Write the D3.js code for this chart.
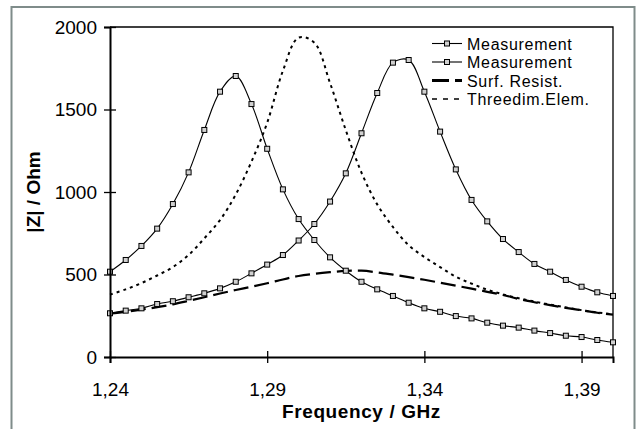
<!DOCTYPE html>
<html lang="en">
<head>
    <meta charset="UTF-8">
    <title>|Z| vs Frequency</title>
    <style>
        body { margin: 0; background: #fff; }
        text { font-family: "Liberation Sans", Arial, sans-serif; fill: #000; }
    </style>
</head>
<body>
<svg height="429" width="641"></svg>

<script src="https://d3js.org/d3.v7.min.js"></script>
<script>

    // frequency points in GHz
    var freq = [1.240, 1.245, 1.250, 1.255, 1.260, 1.265, 1.270, 1.275, 1.280, 1.285, 1.290,
                1.295, 1.300, 1.305, 1.310, 1.315, 1.320, 1.325, 1.330, 1.335, 1.340, 1.345,
                1.350, 1.355, 1.360, 1.365, 1.370, 1.375, 1.380, 1.385, 1.390, 1.395, 1.400];

    // |Z| in Ohm
    var measurement1 = [517, 588, 673, 778, 927, 1119, 1376, 1608, 1703, 1533, 1262,
                        1016, 836, 709, 604, 523, 456, 410, 370, 329, 295, 274,
                        248, 234, 208, 190, 178, 160, 145, 129, 121, 103, 89];
    var measurement2 = [265, 281, 295, 321, 338, 362, 386, 416, 456, 507, 560,
                        618, 706, 806, 942, 1113, 1356, 1600, 1784, 1800, 1608, 1366,
                        1137, 952, 822, 715, 636, 564, 517, 467, 426, 392, 370];
    var surfResist = [262, 274, 287, 302, 319, 340, 362, 385, 406, 426, 447,
                      470, 491, 504, 514, 522, 523, 513, 499, 484, 468, 450,
                      432, 414, 395, 376, 352, 332, 314, 298, 283, 268, 257];
    var threedim = [378, 410, 448, 494, 545, 618, 719, 830, 985, 1184, 1420,
                    1734, 1936, 1905, 1660, 1375, 1117, 925, 788, 677, 606, 545,
                    487, 445, 408, 380, 356, 336, 318, 300, 284, 270, 258];

    var xTicks = [1.24, 1.29, 1.34, 1.39];
    var yTicks = [0, 500, 1000, 1500, 2000];
    var legendNames = ["Measurement", "Measurement", "Surf. Resist.", "Threedim.Elem."];

    var svg = d3.select("svg");
    var plot = {left: 110, top: 27, right: 613, bottom: 357};

    // outer frame
    svg.append("rect")
        .attr("x", 11.5).attr("y", 7)
        .attr("width", 623).attr("height", 440)
        .attr("fill", "#fff")
        .attr("stroke", "#7f8c8a")
        .attr("stroke-width", 2);

    var x = d3.scaleLinear().domain([1.24, 1.40]).range([plot.left, plot.right]);
    var y = d3.scaleLinear().domain([0, 2000]).range([plot.bottom, plot.top]);

    // top and right border of plot area
    svg.append("path")
        .attr("d", "M" + plot.left + "," + plot.top + "H" + plot.right + "V" + plot.bottom)
        .attr("fill", "none").attr("stroke", "#000").attr("stroke-width", 1.3);

    var lineGen = function(vals) {
        return d3.line()
            .x(function(d, i) { return x(freq[i]); })
            .y(function(d) { return y(d); })
            .curve(d3.curveCatmullRom.alpha(0.5))(vals);
    };

    svg.append("path").attr("d", lineGen(threedim))
        .attr("fill", "none").attr("stroke", "#000")
        .attr("stroke-width", 2).attr("stroke-dasharray", "3,4");

    svg.append("path").attr("d", lineGen(surfResist))
        .attr("fill", "none").attr("stroke", "#000")
        .attr("stroke-width", 2.2).attr("stroke-dasharray", "15,6");

    [measurement1, measurement2].forEach(function(vals) {
        svg.append("path").attr("d", lineGen(vals))
            .attr("fill", "none").attr("stroke", "#000").attr("stroke-width", 1.1);

        svg.append("g").selectAll("rect")
            .data(vals)
            .enter()
            .append("rect")
            .attr("x", function(d, i) { return x(freq[i]) - 2.5; })
            .attr("y", function(d) { return y(d) - 2.5; })
            .attr("width", 5).attr("height", 5)
            .attr("fill", "#d0d0d0")
            .attr("stroke", "#000").attr("stroke-width", 1);
    });

    // axes
    var yAxis = svg.append("g")
        .attr("transform", "translate(" + plot.left + ",0)")
        .call(d3.axisLeft(y).tickValues(yTicks).tickSize(6).tickPadding(7)
            .tickFormat(d3.format("d")));
    yAxis.selectAll(".tick line").attr("x1", 6).attr("stroke-width", 1.3);
    yAxis.select(".domain").attr("stroke-width", 2);

    var xAxis = svg.append("g")
        .attr("transform", "translate(0," + plot.bottom + ")")
        .call(d3.axisBottom(x).tickValues(xTicks).tickSize(6).tickPadding(20)
            .tickFormat(function(d) { return d.toFixed(2).replace(".", ","); }));
    xAxis.selectAll(".tick line").attr("y1", -6).attr("stroke-width", 1.3);
    xAxis.select(".domain").attr("stroke-width", 2);

    svg.selectAll(".tick text")
        .attr("font-size", 19).attr("fill", "#000");
    svg.selectAll(".domain").attr("stroke", "#000");

    // axis titles
    svg.append("text")
        .attr("x", (plot.left + plot.right) / 2)
        .attr("y", 418)
        .attr("text-anchor", "middle")
        .attr("font-size", 19).attr("font-weight", "bold")
        .attr("letter-spacing", 0.6)
        .text("Frequency / GHz");

    svg.append("text")
        .attr("transform", "translate(40," + ((plot.top + plot.bottom) / 2) + ") rotate(-90)")
        .attr("text-anchor", "middle")
        .attr("font-size", 19).attr("font-weight", "bold")
        .text("|Z| / Ohm");

    // legend
    var legendRows = [43.5, 62, 80.5, 99];
    var legend = svg.append("g");
    legendNames.forEach(function(name, i) {
        var ly = legendRows[i];
        if (i < 2) {
            legend.append("line").attr("x1", 432).attr("x2", 462).attr("y1", ly).attr("y2", ly)
                .attr("stroke", "#000").attr("stroke-width", 1.1);
            legend.append("rect").attr("x", 444.5).attr("y", ly - 2.5)
                .attr("width", 5).attr("height", 5)
                .attr("fill", "#d0d0d0").attr("stroke", "#000");
        } else if (i == 2) {
            legend.append("line").attr("x1", 432).attr("x2", 462).attr("y1", ly).attr("y2", ly)
                .attr("stroke", "#000").attr("stroke-width", 3)
                .attr("stroke-dasharray", "17,6");
        } else {
            legend.append("line").attr("x1", 432).attr("x2", 464).attr("y1", ly).attr("y2", ly)
                .attr("stroke", "#000").attr("stroke-width", 1.5)
                .attr("stroke-dasharray", "5,6");
        }
        legend.append("text")
            .attr("x", 467).attr("y", ly + 6)
            .attr("font-size", 16)
            .attr("letter-spacing", 0.7)
            .text(name);
    });

</script>
</body>
</html>
